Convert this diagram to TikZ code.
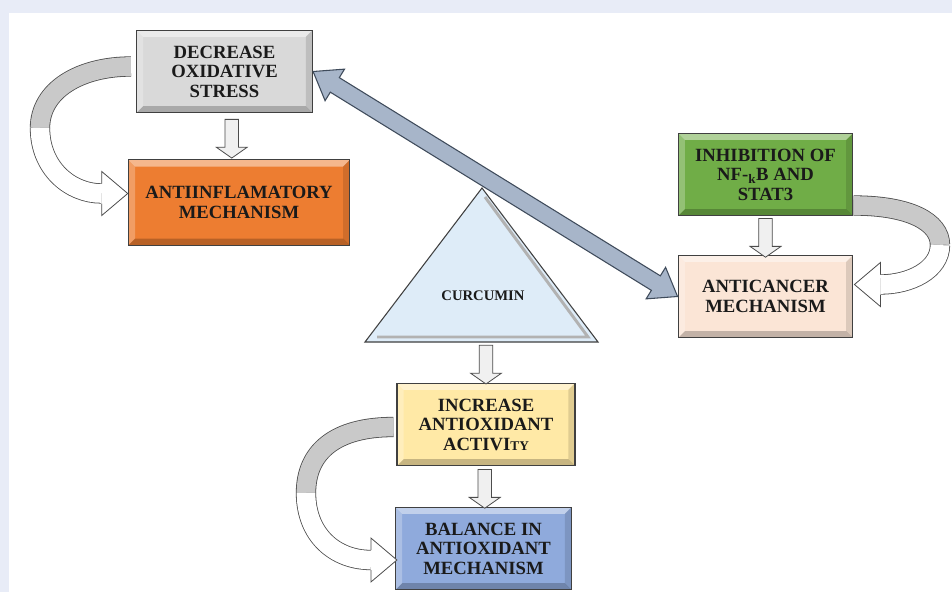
\documentclass[tikz,border=0pt]{standalone}
\usepackage{fontspec}
\setmainfont{Liberation Serif}
\usepackage{tikz}
\usepackage{xcolor}
\usetikzlibrary{
  positioning, arrows.meta, shapes.geometric, shapes.arrows, calc,
}
\definecolor{cPage}      {HTML}{E8ECF7}
\definecolor{cGrayBox}   {HTML}{D9D9D9}
\definecolor{cOrange}    {HTML}{ED7D31}
\definecolor{cGreen}     {HTML}{70AD47}
\definecolor{cPeach}     {HTML}{FBE5D6}
\definecolor{cYellow}    {HTML}{FFE9A6}
\definecolor{cBlueBox}   {HTML}{8FAADC}
\definecolor{cTriangle}  {HTML}{DEECF8}
\definecolor{cSteel}     {HTML}{A7B5C9}
\definecolor{cSteelLine} {HTML}{3F4B5B}
\definecolor{cRibbon}    {HTML}{C9C9C9}
\definecolor{cInk}       {HTML}{1A1A1A}

\tikzset{
  mechbox/.style={draw=black!75, line width=0.9pt, minimum width=132pt, minimum height=62pt,
    align=center, text=cInk, font=\bfseries\fontsize{14}{14.6}\selectfont, inner sep=2pt,
    path picture={
      \coordinate (bvSW) at (path picture bounding box.south west);
      \coordinate (bvNE) at (path picture bounding box.north east);
      \coordinate (bvNW) at (bvSW |- bvNE);
      \coordinate (bvSE) at (bvNE |- bvSW);
      \fill[white, opacity=0.45] (bvNW) -- (bvNE) -- ([shift={(-5pt,-5pt)}]bvNE) -- ([shift={(5pt,-5pt)}]bvNW) -- cycle;
      \fill[white, opacity=0.25] (bvSW) -- (bvNW) -- ([shift={(5pt,-5pt)}]bvNW) -- ([shift={(5pt,5pt)}]bvSW) -- cycle;
      \fill[black, opacity=0.22] (bvSW) -- (bvSE) -- ([shift={(-5pt,5pt)}]bvSE) -- ([shift={(5pt,5pt)}]bvSW) -- cycle;
      \fill[black, opacity=0.12] (bvSE) -- (bvNE) -- ([shift={(-5pt,-5pt)}]bvNE) -- ([shift={(-5pt,5pt)}]bvSE) -- cycle;
    }},
  downarrow/.style={single arrow, draw=black!70, fill=gray!12, line width=0.6pt, rotate=-90,
    minimum height=29pt, minimum width=1pt, inner sep=4.8pt,
    single arrow head extend=6.5pt, single arrow tip angle=110},
  linkarrow/.style={double arrow, draw=cSteelLine, fill=cSteel, line width=0.8pt,
    minimum width=1pt, inner sep=6pt, double arrow head extend=7.5pt, double arrow tip angle=72},
  ribbon/.style={draw=black!70, line width=0.6pt, double=#1, double distance=14pt},
  ribbonhead/.style={draw=black!70, fill=white, line width=0.6pt, line join=miter},
}

\begin{document}
\begin{tikzpicture}[x=0.75pt, y=-0.75pt]
  % page
  \useasboundingbox (0,0) rectangle (952,592);
  \fill[cPage] (0,0) rectangle (952,592);
  \fill[white] (9,13) rectangle (952,592);

  % boxes
  \node[mechbox, fill=cGrayBox] (dec) at (224.5,71.5) {DECREASE\\OXIDATIVE\\STRESS};
  \node[mechbox, fill=cOrange, minimum width=166pt, minimum height=64pt] (anti) at (239,202.5) {ANTIINFLAMATORY\\MECHANISM};
  \node[mechbox, fill=cGreen, minimum width=131pt] (inh) at (765.5,174.5) {INHIBITION OF\\NF-\textsubscript{k}B AND\\STAT3};
  \node[mechbox, fill=cPeach, minimum width=131pt] (acm) at (765.5,296.5) {ANTICANCER\\MECHANISM};
  \node[mechbox, fill=cYellow, minimum width=133.5pt] (inc) at (486,424.5) {INCREASE\\ANTIOXIDANT\\ACTIVI{\fontsize{10}{12}\selectfont TY}};
  \node[mechbox, fill=cBlueBox] (bal) at (483.5,548.5) {BALANCE IN\\ANTIOXIDANT\\MECHANISM};

  % curcumin triangle
  \coordinate (triTop) at (482,188);
  \coordinate (triL) at (365,342);
  \coordinate (triR) at (598,342);
  \filldraw[fill=cTriangle, draw=black!75, line width=0.8pt] (triTop) -- (triL) -- (triR) -- cycle;
  \draw[gray!60, line width=2.2pt] (485,197) -- (588,337) -- (377,337);
  \node[font=\bfseries\fontsize{11}{13}\selectfont, text=cInk] (cur) at (483,296) {CURCUMIN};
  \coordinate (triBase) at ($(triL)!0.5!(triR)$);

  % straight block arrows
  \node[downarrow] (a1) at ($(dec.south)!0.5!(anti.north)$) {};
  \node[downarrow] (a2) at ($(inh.south)!0.5!(acm.north)$) {};
  \node[downarrow] (a3) at ($(triBase -| inc.north)!0.5!(inc.north)$) {};
  \node[downarrow] (a4) at ($(inc.south)!0.5!(bal.north)$) {};

  % curved ribbons
  \coordinate (decOut) at ($(dec.west)+(-5,-5)$);
  \coordinate (antiIn) at ($(anti.west)+(0,-9)$);
  \draw[ribbon=cRibbon] (decOut) .. controls (80,66.5) and (40,90) .. (40,128);
  \draw[ribbon=white] (40,128) .. controls (40,168) and (70,193.5) .. ($(antiIn)+(-26,0)$);
  \filldraw[ribbonhead] ($(antiIn)+(-26,-10)$) -- ++(0,-12) -- (antiIn) -- ++(-26,22) -- ++(0,-12);

  \coordinate (inhOut) at ($(inh.east)+(0,31)$);
  \coordinate (acmIn) at ($(acm.east)+(1,-12)$);
  \draw[ribbon=cRibbon] (inhOut) .. controls (910,205.5) and (940,222) .. (940,245);
  \draw[ribbon=white] (940,245) .. controls (940,270) and (910,284.5) .. ($(acmIn)+(26,0)$);
  \filldraw[ribbonhead] ($(acmIn)+(26,-10)$) -- ++(0,-12) -- (acmIn) -- ++(26,22) -- ++(0,-12);

  \coordinate (incOut) at ($(inc.west)+(-3,2.5)$);
  \coordinate (balIn) at ($(bal.west)+(2,11.5)$);
  \draw[ribbon=cRibbon] (incOut) .. controls (335,427) and (306,452) .. (306,493);
  \draw[ribbon=white] (306,493) .. controls (306,535) and (335,560) .. ($(balIn)+(-26,0)$);
  \filldraw[ribbonhead] ($(balIn)+(-26,-10)$) -- ++(0,-12) -- (balIn) -- ++(-26,22) -- ++(0,-12);

  % link between stress and cancer
  \path let \p1=(dec.east), \p2=(acm.west),
        \n1={atan2(\y2-\y1,\x2-\x1)}, \n2={veclen(\x2-\x1,\y2-\y1)}
    in node[linkarrow, rotate=\n1, minimum height=\n2] (link) at ($(\p1)!0.5!(\p2)$) {};
\end{tikzpicture}
\end{document}
